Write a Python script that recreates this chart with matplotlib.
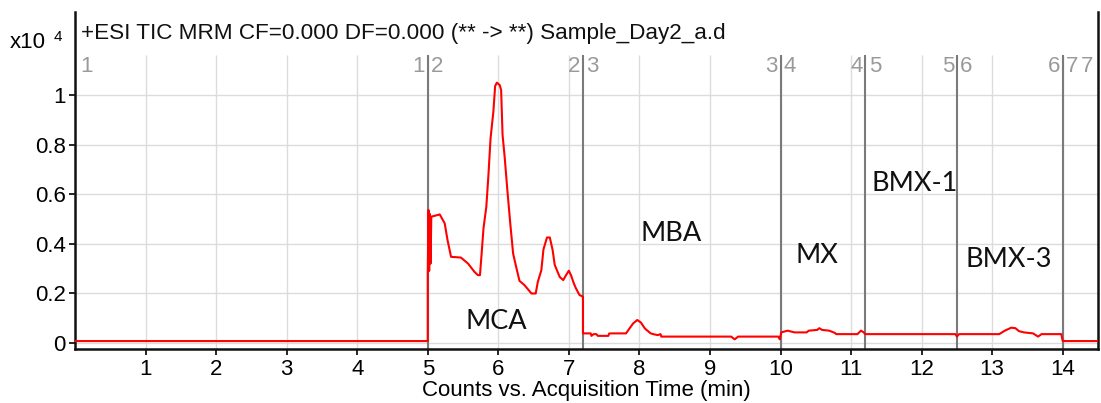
import matplotlib
matplotlib.use("Agg")
import matplotlib.pyplot as plt
import numpy as np

plt.rcParams['font.family'] = ['Liberation Sans', 'DejaVu Sans']

# TIC trace, counts in units of 1e4
time_min = [0.0, 5.0, 5.0, 5.01, 5.02, 5.03, 5.04, 5.05, 5.17, 5.24, 5.28, 5.33,
            5.47, 5.57, 5.66, 5.71, 5.74, 5.76, 5.79, 5.83, 5.86, 5.89, 5.93,
            5.955, 5.98, 6.02, 6.04, 6.06, 6.09, 6.13, 6.17, 6.21, 6.25, 6.30,
            6.37, 6.47, 6.53, 6.56, 6.61, 6.64, 6.69, 6.73, 6.77, 6.80, 6.87,
            6.92, 6.96, 7.00, 7.03, 7.07, 7.10, 7.15, 7.2, 7.2,
            7.31, 7.32, 7.35, 7.39, 7.41, 7.56, 7.57, 7.59, 7.81, 7.84, 7.91,
            7.97, 8.02, 8.08, 8.16, 8.21, 8.26, 8.30, 8.31, 9.30, 9.35, 9.40,
            9.97, 9.99, 10.01, 10.10, 10.20, 10.37, 10.40, 10.52, 10.55, 10.59,
            10.69, 10.77, 10.79, 11.09, 11.14, 11.18, 11.2, 12.48, 12.5, 12.53,
            13.10, 13.18, 13.27, 13.33, 13.38, 13.45, 13.58, 13.65, 13.70,
            13.98, 14.0, 14.5]
counts_e4 = [0.007, 0.007, 0.28, 0.536, 0.29, 0.52, 0.32, 0.509, 0.518, 0.482,
             0.415, 0.347, 0.344, 0.320, 0.287, 0.273, 0.273, 0.347, 0.462,
             0.549, 0.677, 0.825, 0.933, 1.036, 1.05, 1.04, 1.02, 0.84, 0.75,
             0.61, 0.48, 0.36, 0.31, 0.25, 0.233, 0.199, 0.199, 0.246, 0.293,
             0.377, 0.425, 0.425, 0.374, 0.314, 0.266, 0.253, 0.273, 0.291,
             0.273, 0.240, 0.220, 0.193, 0.186, 0.038,
             0.038, 0.028, 0.035, 0.035, 0.028, 0.028, 0.037, 0.038, 0.038,
             0.05, 0.078, 0.092, 0.082, 0.057, 0.038, 0.034, 0.031, 0.035,
             0.025, 0.025, 0.014, 0.025, 0.025, 0.014, 0.042, 0.049, 0.042,
             0.042, 0.049, 0.052, 0.059, 0.052, 0.049, 0.040, 0.035, 0.035,
             0.049, 0.042, 0.035, 0.035, 0.025, 0.035, 0.035, 0.049, 0.061,
             0.059, 0.047, 0.042, 0.038, 0.025, 0.035, 0.035, 0.007, 0.007]

# MRM segment boundaries (min)
seg_edges = [5.0, 7.2, 10.0, 11.2, 12.5, 14.0]

# compound labels
compounds = ['MCA', 'MBA', 'MX', 'BMX-1', 'BMX-3']
compound_t = [5.97, 8.45, 10.51, 11.9, 13.23]
compound_y = [0.084, 0.443, 0.354, 0.641, 0.338]

x_ticks = list(range(1, 15))
y_ticks = [0, 0.2, 0.4, 0.6, 0.8, 1]
y_ticklabels = ['0', '0.2', '0.4', '0.6', '0.8', '1']

W, H = 1101, 403
fig = plt.figure(figsize=(W / 100, H / 100), dpi=100)
ax = fig.add_axes([75 / W, 1 - 348.5 / H, (1098 - 75) / W, (348.5 - 12) / H])

x_max = 14.5
y_min, y_max = -0.023, 1.335
grid_top = 1.162
fs = 16

ax.set_xlim(0, x_max)
ax.set_ylim(y_min, y_max)

# grid, drawn by hand so it stops below the header
ax.vlines(x_ticks, y_min, grid_top, color='#dcdcdc', lw=1.0, zorder=1)
ax.hlines(y_ticks, 0, x_max, color='#dcdcdc', lw=1.0, zorder=1)

# segment dividers and numbers
ax.vlines(seg_edges, y_min, grid_top, color='#7a7a7a', lw=1.5, zorder=2)
lab_kw = dict(fontsize=fs, color='#9a9a9a', va='center', zorder=3,
              textcoords='offset points', annotation_clip=False)
ax.annotate('1', (0, 1.115), xytext=(4, 0), ha='left', **lab_kw)
for i, e in enumerate(seg_edges):
    ax.annotate(str(i + 1), (e, 1.115), xytext=(-2, 0), ha='right', **lab_kw)
    ax.annotate(str(i + 2), (e, 1.115), xytext=(2.5, 0), ha='left', **lab_kw)
ax.annotate(str(len(seg_edges) + 1), (x_max, 1.115), xytext=(-3.5, 0),
            ha='right', **lab_kw)

ax.plot(time_min, counts_e4, color='#ff0000', lw=1.5, zorder=4)

for name, t, y in zip(compounds, compound_t, compound_y):
    ax.text(t, y, name, ha='center', va='center', fontsize=19.5,
            family=['Lato', 'DejaVu Sans'], color='#111111', zorder=5)

# header
ax.text(0.006, 0.935, '+ESI TIC MRM CF=0.000 DF=0.000 (** -> **) Sample_Day2_a.d',
        transform=ax.transAxes, ha='left', va='center', fontsize=16.2,
        color='#111111')
fig.text(10 / W, 1 - 43 / H, 'x10', ha='left', va='center', fontsize=fs)
fig.text(54 / W, 1 - 37 / H, '4', ha='left', va='center', fontsize=11)

ax.set_xticks(x_ticks)
ax.set_yticks(y_ticks)
ax.set_yticklabels(y_ticklabels)
ax.tick_params(axis='both', direction='out', length=4.5, width=1.2,
               labelsize=fs, colors='black')
ax.tick_params(axis='x', pad=3)
ax.tick_params(axis='y', pad=2)
ax.set_xlabel('Counts vs. Acquisition Time (min)', fontsize=fs, labelpad=0)

ax.spines['top'].set_visible(False)
for s in ['left', 'right', 'bottom']:
    ax.spines[s].set_linewidth(1.8)
    ax.spines[s].set_color('#111111')

fig.savefig('out.png', dpi=100)
